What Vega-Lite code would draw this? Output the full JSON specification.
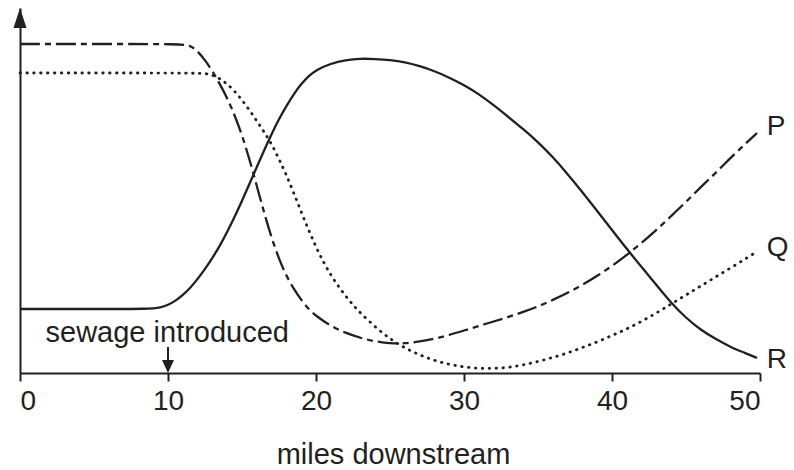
{
  "$schema": "https://vega.github.io/schema/vega-lite/v6.json",
  "width": 740,
  "height": 365,
  "autosize": {"type": "none"},
  "padding": {"left": 20, "top": 8, "right": 34, "bottom": 97},
  "background": "white",
  "config": {
    "view": {"stroke": null},
    "font": "Liberation Sans",
    "axis": {"grid": false, "domainColor": "#231f20", "tickColor": "#231f20", "labelColor": "#231f20", "titleColor": "#231f20"}
  },
  "datasets": {
    "P": [
      {"mile": 0, "level": 329}, {"mile": 5, "level": 329}, {"mile": 11, "level": 329}, {"mile": 11.5, "level": 327.5},
      {"mile": 12, "level": 322}, {"mile": 12.5, "level": 313}, {"mile": 13, "level": 302}, {"mile": 13.5, "level": 289},
      {"mile": 14, "level": 275}, {"mile": 14.5, "level": 258}, {"mile": 15, "level": 238}, {"mile": 15.5, "level": 214},
      {"mile": 16, "level": 187}, {"mile": 16.5, "level": 160}, {"mile": 17, "level": 135}, {"mile": 17.5, "level": 114},
      {"mile": 18, "level": 97}, {"mile": 18.5, "level": 84}, {"mile": 19, "level": 73}, {"mile": 19.5, "level": 64},
      {"mile": 20, "level": 57}, {"mile": 21, "level": 47}, {"mile": 22, "level": 40}, {"mile": 23, "level": 35},
      {"mile": 24, "level": 31.5}, {"mile": 25, "level": 29.5}, {"mile": 26, "level": 29.5}, {"mile": 27, "level": 31.5},
      {"mile": 28, "level": 34}, {"mile": 29, "level": 38}, {"mile": 30, "level": 42.5}, {"mile": 31, "level": 47},
      {"mile": 32, "level": 51.5}, {"mile": 33, "level": 56}, {"mile": 34, "level": 61}, {"mile": 35, "level": 66.5},
      {"mile": 36, "level": 73}, {"mile": 37, "level": 80}, {"mile": 38, "level": 88}, {"mile": 39, "level": 97},
      {"mile": 40, "level": 107}, {"mile": 41, "level": 118}, {"mile": 42, "level": 130}, {"mile": 43, "level": 143},
      {"mile": 44, "level": 157}, {"mile": 45, "level": 171}, {"mile": 46, "level": 186}, {"mile": 47, "level": 200},
      {"mile": 48, "level": 215}, {"mile": 49, "level": 229}, {"mile": 49.8, "level": 240}
    ],
    "Q": [
      {"mile": 0, "level": 300}, {"mile": 5, "level": 300}, {"mile": 12.3, "level": 300}, {"mile": 12.7, "level": 299},
      {"mile": 13, "level": 298}, {"mile": 13.5, "level": 294.5}, {"mile": 14, "level": 289}, {"mile": 14.5, "level": 282},
      {"mile": 15, "level": 273}, {"mile": 15.5, "level": 263}, {"mile": 16, "level": 252}, {"mile": 16.5, "level": 241},
      {"mile": 17, "level": 229}, {"mile": 17.5, "level": 214}, {"mile": 18, "level": 198}, {"mile": 18.5, "level": 180},
      {"mile": 19, "level": 161}, {"mile": 19.5, "level": 143}, {"mile": 20, "level": 126}, {"mile": 20.5, "level": 111},
      {"mile": 21, "level": 98}, {"mile": 21.5, "level": 87}, {"mile": 22, "level": 77}, {"mile": 22.5, "level": 68},
      {"mile": 23, "level": 60}, {"mile": 24, "level": 46}, {"mile": 25, "level": 34}, {"mile": 26, "level": 25},
      {"mile": 27, "level": 18}, {"mile": 28, "level": 12.5}, {"mile": 29, "level": 8.5}, {"mile": 30, "level": 6},
      {"mile": 31, "level": 4.5}, {"mile": 32, "level": 4.5}, {"mile": 33, "level": 5.5}, {"mile": 34, "level": 8},
      {"mile": 35, "level": 11.5}, {"mile": 36, "level": 15.5}, {"mile": 37, "level": 20}, {"mile": 38, "level": 25.5},
      {"mile": 39, "level": 31}, {"mile": 40, "level": 37.5}, {"mile": 41, "level": 44}, {"mile": 42, "level": 51.5},
      {"mile": 43, "level": 60}, {"mile": 44, "level": 69}, {"mile": 45, "level": 78}, {"mile": 46, "level": 87},
      {"mile": 47, "level": 96}, {"mile": 48, "level": 105}, {"mile": 49, "level": 114}, {"mile": 49.76, "level": 121}
    ],
    "R": [
      {"mile": 0, "level": 64}, {"mile": 5, "level": 64}, {"mile": 8.8, "level": 64}, {"mile": 9.5, "level": 65.5},
      {"mile": 10, "level": 68}, {"mile": 10.5, "level": 72}, {"mile": 11, "level": 78}, {"mile": 11.5, "level": 85},
      {"mile": 12, "level": 94}, {"mile": 12.5, "level": 104}, {"mile": 13, "level": 115}, {"mile": 13.5, "level": 127},
      {"mile": 14, "level": 141}, {"mile": 14.5, "level": 156}, {"mile": 15, "level": 172}, {"mile": 15.5, "level": 189},
      {"mile": 16, "level": 206}, {"mile": 16.5, "level": 223}, {"mile": 17, "level": 239}, {"mile": 17.5, "level": 254},
      {"mile": 18, "level": 267}, {"mile": 18.5, "level": 279}, {"mile": 19, "level": 289}, {"mile": 19.5, "level": 297},
      {"mile": 20, "level": 303}, {"mile": 21, "level": 309.5}, {"mile": 22, "level": 313}, {"mile": 23, "level": 314.5},
      {"mile": 24, "level": 314}, {"mile": 25, "level": 313}, {"mile": 26, "level": 311}, {"mile": 27, "level": 307},
      {"mile": 28, "level": 302}, {"mile": 29, "level": 295.5}, {"mile": 30, "level": 288}, {"mile": 31, "level": 279},
      {"mile": 32, "level": 268}, {"mile": 33, "level": 256}, {"mile": 34, "level": 244}, {"mile": 35, "level": 231},
      {"mile": 36, "level": 216}, {"mile": 37, "level": 199}, {"mile": 38, "level": 181}, {"mile": 39, "level": 162},
      {"mile": 40, "level": 143}, {"mile": 41, "level": 124}, {"mile": 42, "level": 106}, {"mile": 43, "level": 88},
      {"mile": 44, "level": 70}, {"mile": 45, "level": 55}, {"mile": 46, "level": 43}, {"mile": 47, "level": 34},
      {"mile": 48, "level": 26}, {"mile": 49, "level": 20}, {"mile": 49.8, "level": 15}
    ],
    "labels": [
      {"mile": 50.45, "level": 238, "name": "P"},
      {"mile": 50.45, "level": 117, "name": "Q"},
      {"mile": 50.45, "level": 5, "name": "R"}
    ],
    "note": [{"mile": 9.95, "level": 31, "text": "sewage introduced"}],
    "noteArrow": [{"mile": 10, "top": 26, "bottom": 12, "head": 6.5}],
    "yArrow": [{"mile": 0, "level": 355}]
  },
  "layer": [
    {
      "data": {"name": "R"},
      "mark": {"type": "line", "interpolate": "basis", "color": "#231f20", "strokeWidth": 2.3},
      "encoding": {
        "x": {"field": "mile", "type": "quantitative",
          "scale": {"domain": [0, 50], "nice": false, "zero": false},
          "axis": {"values": [0, 10, 20, 30, 40, 50], "tickSize": 8, "tickWidth": 2, "domainWidth": 2,
            "labelFontSize": 28, "labelPadding": 6, "labelFont": "Liberation Sans",
            "title": "miles downstream", "titleFontSize": 29, "titleFontWeight": "normal", "titleFont": "Liberation Sans",
            "titleBaseline": "alphabetic", "titleY": 90, "titleX": 373}},
        "y": {"field": "level", "type": "quantitative",
          "scale": {"domain": [0, 365], "nice": false, "zero": false},
          "axis": {"domain": true, "domainWidth": 2, "ticks": false, "labels": false, "title": null}}
      }
    },
    {
      "data": {"name": "P"},
      "mark": {"type": "line", "interpolate": "basis", "color": "#231f20", "strokeWidth": 2.3, "strokeDash": [20, 5, 6, 5]},
      "encoding": {
        "x": {"field": "mile", "type": "quantitative"},
        "y": {"field": "level", "type": "quantitative"}
      }
    },
    {
      "data": {"name": "Q"},
      "mark": {"type": "line", "interpolate": "basis", "color": "#231f20", "strokeWidth": 2.8, "strokeDash": [0.5, 6.4], "strokeCap": "round"},
      "encoding": {
        "x": {"field": "mile", "type": "quantitative"},
        "y": {"field": "level", "type": "quantitative"}
      }
    },
    {
      "data": {"name": "labels"},
      "mark": {"type": "text", "align": "left", "baseline": "alphabetic", "fontSize": 28, "color": "#231f20", "font": "Liberation Sans", "clip": false},
      "encoding": {
        "x": {"field": "mile", "type": "quantitative"},
        "y": {"field": "level", "type": "quantitative"},
        "text": {"field": "name"}
      }
    },
    {
      "data": {"name": "note"},
      "mark": {"type": "text", "align": "center", "baseline": "alphabetic", "fontSize": 29, "color": "#231f20", "font": "Liberation Sans"},
      "encoding": {
        "x": {"field": "mile", "type": "quantitative"},
        "y": {"field": "level", "type": "quantitative"},
        "text": {"field": "text"}
      }
    },
    {
      "data": {"name": "noteArrow"},
      "mark": {"type": "rule", "color": "#231f20", "strokeWidth": 2},
      "encoding": {
        "x": {"field": "mile", "type": "quantitative"},
        "y": {"field": "top", "type": "quantitative"},
        "y2": {"field": "bottom"}
      }
    },
    {
      "data": {"name": "noteArrow"},
      "mark": {"type": "point", "shape": "M0,1L-0.92,-1L0.92,-1Z", "size": 169, "filled": true, "opacity": 1, "color": "#231f20", "strokeWidth": 0},
      "encoding": {
        "x": {"field": "mile", "type": "quantitative"},
        "y": {"field": "head", "type": "quantitative"}
      }
    },
    {
      "data": {"name": "yArrow"},
      "mark": {"type": "point", "shape": "M0,-1L0.65,1L-0.65,1Z", "size": 400, "filled": true, "opacity": 1, "color": "#231f20", "strokeWidth": 0, "clip": false},
      "encoding": {
        "x": {"field": "mile", "type": "quantitative"},
        "y": {"field": "level", "type": "quantitative"}
      }
    }
  ]
}
